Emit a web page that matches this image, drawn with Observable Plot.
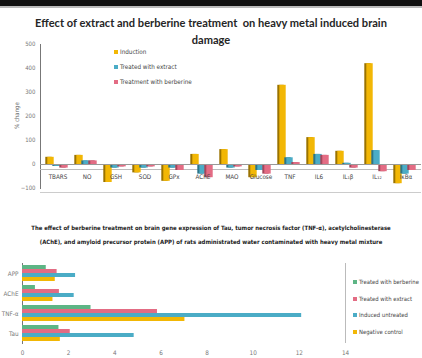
<!DOCTYPE html>
<html><head><meta charset="utf-8">
<script src="https://cdn.jsdelivr.net/npm/d3@7"></script>
<script src="https://cdn.jsdelivr.net/npm/@observablehq/plot@0.6"></script>
<style>
html,body{margin:0;padding:0;background:#fff;overflow:hidden}
#page{position:relative;width:422px;height:358px;overflow:hidden;background:#fff;font-family:Lato,"DejaVu Sans",sans-serif}
.abs{position:absolute}
#topbar{left:0;top:0;width:422px;height:6px;background:#111}
#topbar2{left:0;top:6px;width:422px;height:2px;background:#bbb}
.line{position:absolute;left:0;width:422px;text-align:center;white-space:nowrap}
.t{font-family:Lato,"DejaVu Sans",sans-serif;font-weight:700;color:#262626;font-size:12px}
.c{font-family:"DejaVu Sans Condensed","DejaVu Sans",sans-serif;font-weight:700;color:#222;font-size:6.5px}
#ylab{position:absolute;left:-14px;top:112px;width:60px;text-align:center;transform:rotate(-90deg);font-size:6px;color:#666;font-family:"DejaVu Sans Condensed",sans-serif;white-space:nowrap}
.leg{position:absolute;font-size:6.3px;color:#444;white-space:nowrap;font-family:"DejaVu Sans Condensed",sans-serif}
.leg i{display:inline-block;width:4px;height:4px;margin-right:2px;vertical-align:middle}
</style></head><body><div id="page">
<div id="topbar" class="abs"></div><div id="topbar2" class="abs"></div>
<div class="line t" id="t1" style="top:16px"><span>Effect of extract and berberine treatment&nbsp; on heavy metal induced brain</span></div>
<div class="line t" id="t2" style="top:33px"><span>damage</span></div>
<div class="line c" id="c1" style="top:224px"><span>The effect of berberine treatment on brain gene expression of Tau, tumor necrosis factor (TNF-α), acetylcholinesterase</span></div>
<div class="line c" id="c2" style="top:238px"><span>(AChE), and amyloid precursor protein (APP) of rats administrated water contaminated with heavy metal mixture</span></div>
<div id="ylab">% change</div>
</div>
<script>
// ---- top chart data ----
const categories = ["TBARS","NO","GSH","SOD","GPx","AChE","MAO","Glucose","TNF","IL6","IL₁β","IL₁₂","IκBα"];
const seriesTop = ["Induction","Treated with extract","Treatment with berberine"];
const induction = [30, 38, -75, -35, -70, 42, 62, -55, 330, 112, 55, 420, -80];
const extract   = [-8, 15, -15, -15, -15, -40, -15, -25, 28, 42, 5, 58, -40];
const berberine = [-15, 15, -10, -10, -25, -55, -10, -40, 8, 38, -15, -30, -25];
const topTicks = [-100, 0, 100, 200, 300, 400, 500];

// ---- bottom chart data ----
const genes = ["APP","AChE","TNF-α","Tau"];
const seriesBottom = ["Treated with berberine","Treated with extract","Induced untreated","Negative control"];
const berb2     = [1.03, 0.56, 2.97, 1.58];
const extract2  = [1.5, 1.6, 5.85, 2.07];
const induced2  = [2.3, 2.24, 12.1, 4.84];
const negative2 = [1.42, 1.32, 7.04, 1.64];
const bottomTicks = [0, 2, 4, 6, 8, 10, 12, 14];

const page = document.getElementById("page");

// fit text lines to the widths seen in the reference
function fit(id, w) {
  const div = document.getElementById(id);
  const span = div.querySelector("span");
  const fs = parseFloat(getComputedStyle(div).fontSize);
  const cur = span.getBoundingClientRect().width;
  div.style.fontSize = (fs * w / cur) + "px";
}
fit("t1", 352);
document.getElementById("t2").style.fontSize = document.getElementById("t1").style.fontSize;
fit("c1", 360);
document.getElementById("c2").style.fontSize = document.getElementById("c1").style.fontSize;

// top chart
const topValues = [induction, extract, berberine];
const topColors = ["#F2B705", "#4BACC6", "#E36C84"];
const topDark = ["#9A7300", "#2C7488", "#A4475B"];
const topOffsets = [-7, 0, 7];
const topData = categories.flatMap((c, i) => seriesTop.map((s, k) => ({cat: c, series: s, value: topValues[k][i]})));
const topMarks = [];
seriesTop.forEach((s, k) => {
  const rows = topData.filter(d => d.series === s);
  topMarks.push(Plot.barY(rows, {x: "cat", y: "value", fill: topDark[k], insetLeft: 11.3, insetRight: 11.3, dx: topOffsets[k] - 2}));
  topMarks.push(Plot.barY(rows, {x: "cat", y: "value", fill: topColors[k], insetLeft: 11.3, insetRight: 11.3, dx: topOffsets[k]}));
});
const topChart = Plot.plot({
  width: 422, height: 170,
  marginLeft: 40, marginRight: 1, marginTop: 14, marginBottom: 12,
  style: {background: "transparent", fontSize: "6px", color: "#777", fontFamily: "DejaVu Sans Condensed, sans-serif"},
  x: {domain: categories, range: [42.5, 420.5], padding: 0, axis: null},
  y: {domain: [-100, 500], ticks: topTicks, tickSize: 0, tickPadding: 5, line: true, label: null},
  marks: [
    Plot.ruleY([0], {stroke: "#bbb", dy: 5}),
    Plot.ruleY([-100], {stroke: "#ccc", dy: 4}),
    ...topMarks,
    Plot.ruleY([0], {stroke: "#999"}),
    Plot.text(categories, {x: d => d, frameAnchor: "bottom", dy: -10, fontSize: 6.3, fill: "#444"})
  ]
});
topChart.style.position = "absolute";
topChart.style.left = "0px";
topChart.style.top = "30px";
page.appendChild(topChart);

// top legend
seriesTop.forEach((s, k) => {
  const el = document.createElement("div");
  el.className = "leg";
  el.style.left = "114px";
  el.style.top = (48 + k * 15) + "px";
  el.innerHTML = `<i style="background:${topColors[k]}"></i>${s}`;
  page.appendChild(el);
});

// bottom chart
const bottomValues = [berb2, extract2, induced2, negative2];
const bottomColors = ["#5DB585", "#E36C84", "#4BACC6", "#F2B705"];
const bottomOffsets = [-6, -2, 2, 6];
const bottomData = genes.flatMap((g, i) => seriesBottom.map((s, k) => ({gene: g, series: s, value: bottomValues[k][i]})));
const bottomMarks = seriesBottom.map((s, k) => Plot.barX(bottomData.filter(d => d.series === s), {
  y: "gene", x: "value", fill: bottomColors[k], insetTop: 8, insetBottom: 8, dy: bottomOffsets[k]
}));
const bottomChart = Plot.plot({
  width: 422, height: 100,
  marginLeft: 22, marginRight: 77, marginTop: 5, marginBottom: 15,
  style: {background: "transparent", fontSize: "6.3px", color: "#777", fontFamily: "DejaVu Sans Condensed, sans-serif"},
  x: {domain: [0, 14], ticks: bottomTicks, tickSize: 0, tickPadding: 7, label: null},
  y: {domain: genes, padding: 0, tickSize: 0, tickPadding: 4, line: true, label: null},
  marks: [
    ...bottomMarks,
    Plot.ruleX([14], {stroke: "#bbb"})
  ]
});
bottomChart.style.position = "absolute";
bottomChart.style.left = "0px";
bottomChart.style.top = "258px";
page.appendChild(bottomChart);

seriesBottom.forEach((s, k) => {
  const el = document.createElement("div");
  el.className = "leg";
  el.style.left = "353px";
  el.style.fontSize = "5.9px";
  el.style.top = (279 + k * 16.5) + "px";
  el.innerHTML = `<i style="background:${bottomColors[k]}"></i>${s}`;
  page.appendChild(el);
});
</script>
</body></html>
